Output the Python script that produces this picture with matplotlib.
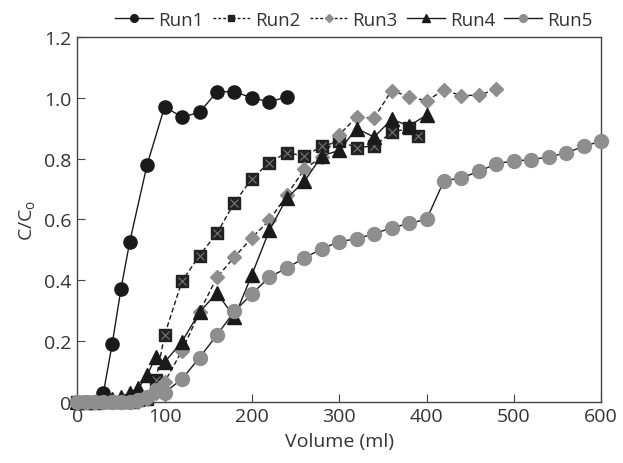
import matplotlib
matplotlib.use("Agg")
import matplotlib.pyplot as plt
from matplotlib.lines import Line2D

plt.rcParams['font.family'] = ['Open Sans', 'DejaVu Sans']
plt.rcParams['mathtext.default'] = 'regular'

# --- breakthrough data, C/Co vs effluent volume ---
vol_run1 = [0, 10, 20, 30, 40, 50, 60, 80, 100, 120, 140, 160, 180, 200, 220, 240]
cc_run1 = [0, 0, 0, 0.03, 0.19, 0.37, 0.525, 0.78, 0.97, 0.937, 0.952, 1.02, 1.02, 1.0, 0.987, 1.003]

vol_run2 = [0, 10, 20, 30, 40, 50, 60, 70, 80, 90, 100, 120, 140, 160, 180, 200,
            220, 240, 260, 280, 300, 320, 340, 360, 380, 390]
cc_run2 = [0, 0, 0, 0, 0, 0, 0, 0.005, 0.01, 0.07, 0.22, 0.397, 0.481, 0.555, 0.655, 0.734,
           0.787, 0.82, 0.808, 0.84, 0.857, 0.836, 0.842, 0.886, 0.9, 0.875]

vol_run3 = [0, 10, 20, 30, 40, 50, 60, 70, 80, 90, 100, 120, 140, 160, 180, 200, 220, 240,
            260, 280, 300, 320, 340, 360, 380, 400, 420, 440, 460, 480]
cc_run3 = [0, 0, 0, 0, 0, 0, 0, 0, 0.01, 0.03, 0.065, 0.168, 0.295, 0.41, 0.476, 0.54, 0.597, 0.68,
           0.765, 0.806, 0.879, 0.936, 0.934, 1.024, 1.004, 0.99, 1.026, 1.007, 1.009, 1.028]

vol_run4 = [0, 10, 20, 30, 40, 50, 60, 70, 80, 90, 100, 120, 140, 160, 180, 200, 220, 240,
            260, 280, 300, 320, 340, 360, 380, 400]
cc_run4 = [0, 0, 0, 0.005, 0.01, 0.015, 0.03, 0.044, 0.088, 0.147, 0.13, 0.198, 0.295, 0.358,
           0.278, 0.418, 0.564, 0.67, 0.725, 0.809, 0.827, 0.899, 0.871, 0.929, 0.908, 0.943]

vol_run5 = [0, 10, 20, 30, 40, 50, 60, 70, 80, 90, 100, 120, 140, 160, 180, 200, 220, 240,
            260, 280, 300, 320, 340, 360, 380, 400, 420, 440, 460, 480, 500, 520, 540, 560,
            580, 600]
cc_run5 = [0, 0, 0, 0, 0, 0, 0, 0.005, 0.015, 0.04, 0.03, 0.075, 0.145, 0.22, 0.297, 0.355,
           0.41, 0.44, 0.473, 0.503, 0.527, 0.536, 0.553, 0.572, 0.587, 0.6, 0.727, 0.737,
           0.758, 0.783, 0.793, 0.796, 0.806, 0.819, 0.84, 0.858]

x_ticks = [0, 100, 200, 300, 400, 500, 600]
y_ticks = [0, 0.2, 0.4, 0.6, 0.8, 1.0, 1.2]
y_ticklabels = ['0', '0.2', '0.4', '0.6', '0.8', '1.0', '1.2']

txt = '#333333'
gray = '#8e8e8e'

fig = plt.figure(figsize=(6.23, 4.64), dpi=100)
ax = fig.add_axes([0.124, 0.132, 0.841, 0.786])

ax.plot(vol_run1, cc_run1, '-', color='#1a1a1a', lw=1.0, marker='o', ms=9.5,
        mfc='#1a1a1a', mec='#1a1a1a', clip_on=False, zorder=3)
ax.plot(vol_run2, cc_run2, '--', color='#1a1a1a', lw=1.0, marker='s', ms=8.5,
        mfc='#222222', mec='#222222', clip_on=False, zorder=3, dashes=(3.5, 2))
# the X drawn inside each square
ax.plot(vol_run2, cc_run2, ls='none', marker='x', ms=6, mew=0.8, color='#777777',
        clip_on=False, zorder=3.1)
ax.plot(vol_run3, cc_run3, '--', color='#1a1a1a', lw=1.0, marker='D', ms=7,
        mfc=gray, mec=gray, clip_on=False, zorder=3.2, dashes=(3.5, 2))
ax.plot(vol_run4, cc_run4, '-', color='#1a1a1a', lw=1.0, marker='^', ms=9.5,
        mfc='#1a1a1a', mec='#1a1a1a', clip_on=False, zorder=3.3)
ax.plot(vol_run5, cc_run5, '-', color='#1a1a1a', lw=1.0, marker='o', ms=10,
        mfc=gray, mec=gray, clip_on=False, zorder=3.4)

ax.set_xlim(0, 600)
ax.set_ylim(0, 1.2)
ax.set_xticks(x_ticks)
ax.set_yticks(y_ticks)
ax.set_yticklabels(y_ticklabels)
ax.tick_params(direction='in', length=6, width=0.8, color='#444444',
               labelsize=14, labelcolor=txt, pad=4)
for sp in ax.spines.values():
    sp.set_color('#444444')
    sp.set_linewidth(1.0)

ax.set_xlabel('Volume (ml)', fontsize=14, color=txt, labelpad=5)
ax.set_ylabel('C/C$_{o}$', fontsize=14, color=txt, labelpad=5)

handles = [
    Line2D([], [], color='#1a1a1a', lw=1, marker='o', ms=5.5, mfc='#1a1a1a', mec='#1a1a1a'),
    Line2D([], [], color='#1a1a1a', lw=1, ls='--', marker='s', ms=5, mfc='#222222',
           mec='#222222', dashes=(2, 1.5)),
    Line2D([], [], color='#1a1a1a', lw=1, ls='--', marker='D', ms=4, mfc=gray, mec=gray,
           dashes=(2, 1.5)),
    Line2D([], [], color='#1a1a1a', lw=1, marker='^', ms=5.5, mfc='#1a1a1a', mec='#1a1a1a'),
    Line2D([], [], color='#1a1a1a', lw=1, marker='o', ms=5.5, mfc=gray, mec=gray),
]
fig.legend(handles, ['Run1', 'Run2', 'Run3', 'Run4', 'Run5'], loc='center',
           bbox_to_anchor=(0.568, 0.955), ncol=5, frameon=False, fontsize=13.5,
           handlelength=2.0, handletextpad=0.27, columnspacing=0.5, labelcolor=txt,
           borderpad=0.2)

fig.savefig('out.png', dpi=100)
